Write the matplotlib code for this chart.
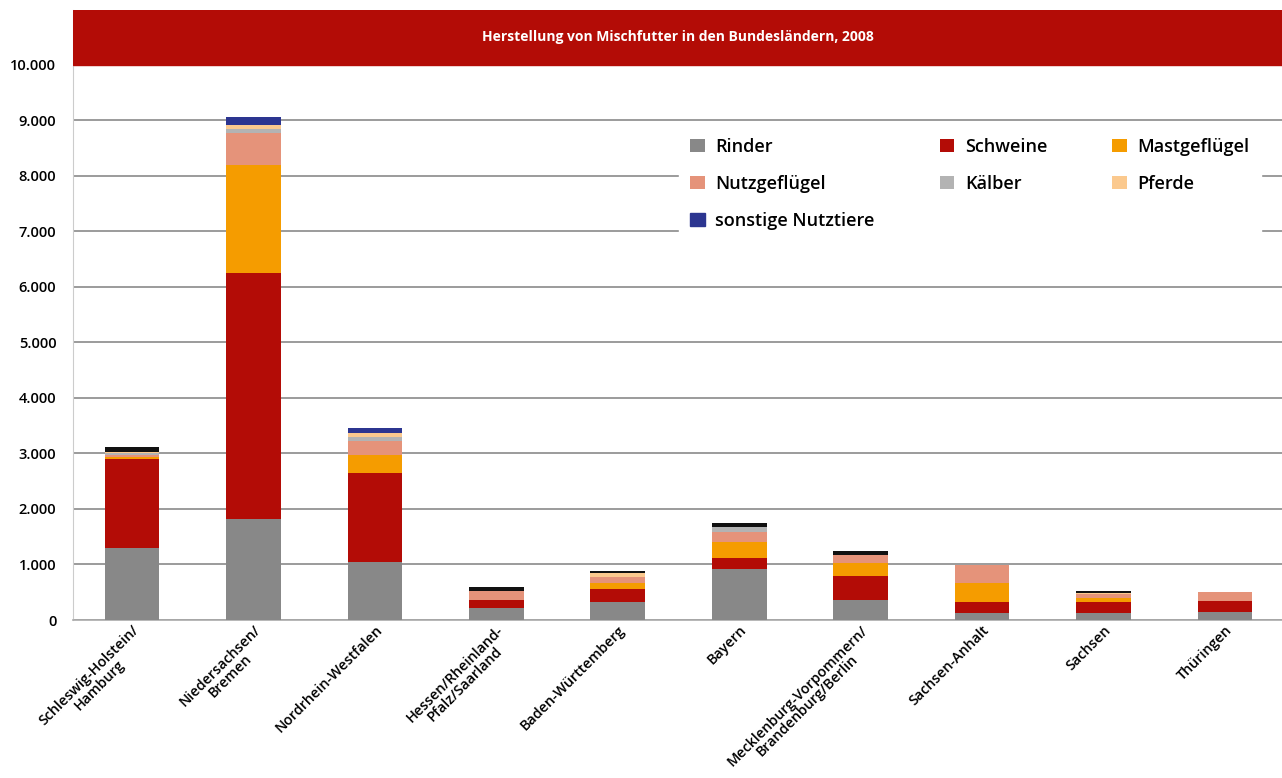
import matplotlib.pyplot as plt
import numpy as np

# Herstellung von Mischfutter je Bundesland, 2008 (in 1.000 t)
laender = ["Schleswig-Holstein/\nHamburg", "Niedersachsen/\nBremen", "Nordrhein-Westfalen",
           "Hessen/Rheinland-\nPfalz/Saarland", "Baden-Württemberg", "Bayern",
           "Mecklenburg-Vorpommern/\nBrandenburg/Berlin", "Sachsen-Anhalt", "Sachsen", "Thüringen"]

rinder = [1290, 1820, 1040, 220, 330, 910, 360, 120, 120, 150]
schweine = [1610, 4430, 1610, 140, 230, 210, 440, 210, 200, 200]
mastgefluegel = [40, 1940, 320, 0, 110, 290, 230, 330, 70, 0]
nutzgefluegel = [30, 580, 260, 170, 110, 170, 150, 330, 70, 160]
kaelber = [40, 70, 70, 0, 0, 90, 0, 0, 0, 0]
pferde = [20, 80, 75, 0, 60, 0, 0, 0, 20, 0]
sonstige = [80, 140, 80, 60, 40, 80, 70, 0, 50, 0]

serien = [("Rinder", rinder, "#888888"),
          ("Schweine", schweine, "#b30c06"),
          ("Mastgeflügel", mastgefluegel, "#f59c00"),
          ("Nutzgeflügel", nutzgefluegel, "#e5937a"),
          ("Kälber", kaelber, "#b3b3b3"),
          ("Pferde", pferde, "#fbc98e"),
          ("sonstige Nutztiere", sonstige, "#2c3590")]

# top segment is drawn black on most bars in the original
sonstige_farben = ["#111111", "#2c3590", "#2c3590", "#111111", "#111111", "#111111",
                   "#111111", "#111111", "#111111", "#111111"]

plt.rcParams["font.family"] = ["Open Sans", "DejaVu Sans"]

fig = plt.figure(figsize=(12.82, 7.78), dpi=100)
ax = fig.add_axes([73 / 1282, 158 / 778, 1 - 73 / 1282, 610 / 778])

x = np.arange(len(laender))
unten = np.zeros(len(laender))
handles = {}
for name, werte, farbe in serien:
    if name == "sonstige Nutztiere":
        ax.bar(x, werte, 0.45, bottom=unten, color=sonstige_farben, zorder=3)
        h = plt.Rectangle((0, 0), 1, 1, color=farbe)
    else:
        h = ax.bar(x, werte, 0.45, bottom=unten, color=farbe, zorder=3)
    handles[name] = h
    unten += np.array(werte)

ax.set_xlim(-0.486, 9.47)
ax.set_ylim(0, 10990)
ax.axhspan(10000, 10990, color="#b30c06", zorder=4)
ax.text(0.5, 10500, "Herstellung von Mischfutter in den Bundesländern, 2008",
        transform=ax.get_yaxis_transform(), ha="center", va="center",
        color="white", fontsize=10, fontweight="bold", zorder=5)

yt = np.arange(0, 10001, 1000)
ax.set_yticks(yt)
ax.set_yticklabels([f"{v:,}".replace(",", ".") for v in yt], fontsize=10.5, fontweight="semibold")
ax.yaxis.grid(True, color="#8a8a8a", lw=1.2, zorder=1)
ax.tick_params(axis="y", length=0, pad=12)
ax.tick_params(axis="x", length=0, pad=2)

ax.set_xticks(x)
ax.set_xticklabels(laender, rotation=45, ha="right", rotation_mode="anchor",
                   multialignment="center", fontsize=10.3, fontweight="semibold",
                   linespacing=1.0)

for s in ["top", "right"]:
    ax.spines[s].set_visible(False)
ax.spines["left"].set_color("#cccccc")
ax.spines["bottom"].set_color("#aaaaaa")
ax.spines["bottom"].set_linewidth(1.2)

# order so that the 3-column legend reads row by row
reihenfolge = ["Rinder", "Nutzgeflügel", "sonstige Nutztiere", "Schweine", "Kälber",
               "Mastgeflügel", "Pferde"]
leg = ax.legend([handles[n] for n in reihenfolge], reihenfolge, ncol=3,
                loc="upper left", bbox_to_anchor=(0.494, 0.823), frameon=True,
                fancybox=False, edgecolor="white", framealpha=1,
                fontsize=13, handlelength=0.8, handleheight=0.8, handletextpad=0.6,
                columnspacing=3.6, labelspacing=1.05, borderpad=0.6)
leg.set_zorder(6)
for t in leg.get_texts():
    t.set_fontweight("semibold")

fig.savefig("out.png", dpi=100)
